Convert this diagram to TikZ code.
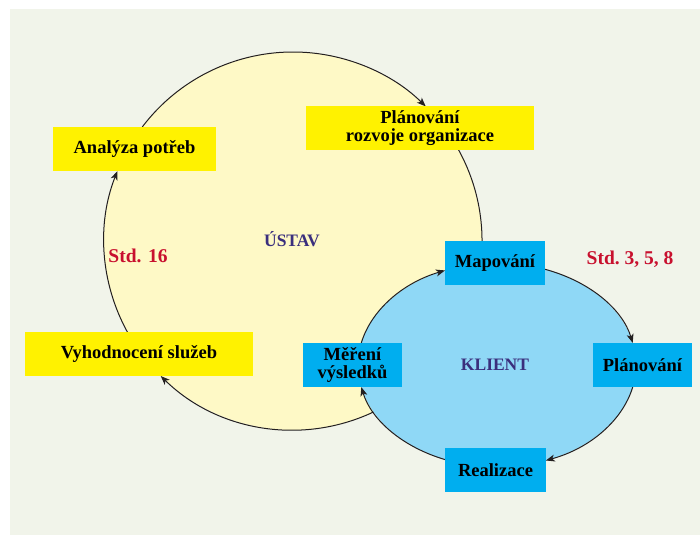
\documentclass[tikz,border=0pt]{standalone}
\usepackage{fontspec}
\setmainfont{Liberation Serif}
\usetikzlibrary{arrows.meta}
\definecolor{bgc}{HTML}{F1F4EA}
\definecolor{circfill}{HTML}{FEF9C6}
\definecolor{ellfill}{HTML}{8FD8F6}
\definecolor{boxyellow}{HTML}{FFF200}
\definecolor{boxblue}{HTML}{00AEEF}
\definecolor{labpurple}{HTML}{3A2F7D}
\definecolor{labred}{HTML}{C8102E}
\definecolor{linec}{HTML}{231F20}
\pgfdeclarelayer{bg}
\pgfsetlayers{bg,main}
\begin{document}
\begin{tikzpicture}[x=1pt,y=1pt,
  boxtext/.style={inner sep=0pt, minimum height=44pt, align=center,
    font=\bfseries\fontsize{18.5}{18}\selectfont, text=black},
  ybox/.style={boxtext, fill=boxyellow, minimum width=#1},
  bbox/.style={boxtext, fill=boxblue, minimum width=#1},
  conn/.style={draw=linec, line width=1pt, -{Stealth[length=9pt,width=7pt,inset=2.5pt]}},
  biglabel/.style={font=\bfseries\fontsize{17.5}{19}\selectfont, text=labpurple},
  stdlabel/.style={font=\bfseries\fontsize{19.5}{21}\selectfont, text=labred}]
\useasboundingbox (0,0) rectangle (700,535);

% boxes
\node[ybox=163pt] (ana)  at (134.5,386) {Analýza potřeb};
\node[ybox=228pt] (plan) at (420,407) {Plánování\\rozvoje organizace};
\node[ybox=228pt] (vyh)  at (139,181) {Vyhodnocení služeb};
\node[bbox=100pt] (map)  at (495,272) {Mapování};
\node[bbox=99pt]  (plb)  at (642.5,170) {Plánování};
\node[bbox=101pt] (real) at (495.5,65) {Realizace};
\node[bbox=99pt]  (mer)  at (352.5,170) {Měření\\výsledků};

% labels
\node[biglabel] (ustav)  at (292,296) {ÚSTAV};
\node[biglabel] (klient) at (495,170) {KLIENT};
\node[stdlabel] (std16)  at (138,279) {Std. 16};
\node[stdlabel] (std358) at (630,276) {Std.~3,~5,~8};

\coordinate (cc) at (293,294);
\coordinate (ec) at (497,170);

\begin{pgfonlayer}{bg}
  \fill[bgc] (10,0) rectangle (700,526);
  \fill[circfill] (cc) circle[radius=189];
  % outer cycle (ÚSTAV)
  \draw[conn] ([shift={(142.9:189)}]cc) arc[start angle=142.9, end angle=45.4, radius=189];
  \draw[conn] ([shift={(28.8:189)}]cc) arc[start angle=28.8, end angle=-134.4, radius=189];
  \draw[conn] ([shift={(208.8:189)}]cc) arc[start angle=208.8, end angle=158.3, radius=189];
  % inner cycle (KLIENT)
  \fill[ellfill] (ec) ellipse[x radius=139, y radius=102];
  \draw[conn] ([shift={(167.5:139 and 102)}]ec) arc[start angle=167.5, end angle=112, x radius=139, y radius=102];
  \draw[conn] ([shift={(69.8:139 and 102)}]ec) arc[start angle=69.8, end angle=12.5, x radius=139, y radius=102];
  \draw[conn] ([shift={(-12.5:139 and 102)}]ec) arc[start angle=-12.5, end angle=-69.4, x radius=139, y radius=102];
  \draw[conn] ([shift={(-112:139 and 102)}]ec) arc[start angle=-112, end angle=-167.5, x radius=139, y radius=102];
\end{pgfonlayer}
\end{tikzpicture}
\end{document}
